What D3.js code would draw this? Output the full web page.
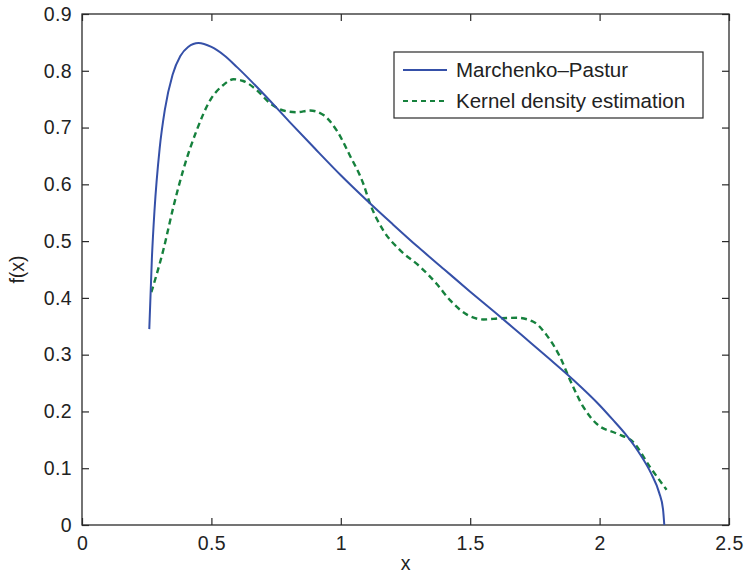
<!DOCTYPE html>
<html>
<head>
<meta charset="utf-8">
<script src="https://cdn.jsdelivr.net/npm/d3@7"></script>
<style>
  body { margin: 0; background: #fff; }
  svg text { font-family: "Liberation Sans", Arial, sans-serif; fill: #222; }
</style>
</head>
<body>
<svg id="chart" width="749" height="578"></svg>
<script>
// Marchenko-Pastur density vs kernel density estimate

var mpX = [0.26, 0.27, 0.28, 0.30, 0.32, 0.35, 0.38, 0.41, 0.45, 0.50, 0.55, 0.60, 0.70, 0.80, 0.90,
           1.00, 1.10, 1.20, 1.30, 1.40, 1.50, 1.60, 1.70, 1.80, 1.90, 2.00, 2.05, 2.10, 2.15, 2.20,
           2.23, 2.245, 2.25];
var mpY = [0.345, 0.469, 0.553, 0.663, 0.731, 0.793, 0.826, 0.842, 0.849, 0.842, 0.827, 0.806, 0.760, 0.711, 0.663,
           0.616, 0.572, 0.530, 0.489, 0.450, 0.411, 0.373, 0.334, 0.295, 0.255, 0.211, 0.186, 0.160, 0.129, 0.090,
           0.057, 0.028, 0];

var kdeX = [0.268, 0.314, 0.353, 0.391, 0.443, 0.495, 0.546, 0.585, 0.623, 0.675, 0.726, 0.778, 0.830, 0.881,
            0.933, 0.984, 1.036, 1.087, 1.113, 1.164, 1.229, 1.306, 1.370, 1.422, 1.486, 1.551, 1.615, 1.680,
            1.744, 1.796, 1.847, 1.886, 1.937, 1.989, 2.066, 2.130, 2.195, 2.259];
var kdeY = [0.410, 0.484, 0.560, 0.625, 0.695, 0.748, 0.775, 0.785, 0.782, 0.766, 0.743, 0.730, 0.727, 0.730,
            0.722, 0.695, 0.650, 0.601, 0.566, 0.519, 0.484, 0.455, 0.425, 0.396, 0.371, 0.362, 0.364, 0.365,
            0.358, 0.334, 0.296, 0.255, 0.208, 0.178, 0.161, 0.146, 0.102, 0.062];

var xTicks = [0, 0.5, 1, 1.5, 2, 2.5];
var yTicks = [0, 0.1, 0.2, 0.3, 0.4, 0.5, 0.6, 0.7, 0.8, 0.9];
var seriesNames = ["Marchenko\u2013Pastur", "Kernel density estimation"];
var seriesColors = ["#3550a8", "#16813d"];

var svg = d3.select("#chart"),
    margin = {top: 14, right: 20, bottom: 53, left: 82},
    width = +svg.attr("width") - margin.left - margin.right,
    height = +svg.attr("height") - margin.top - margin.bottom;

var x = d3.scaleLinear().domain([0, 2.5]).range([0, width]);
var y = d3.scaleLinear().domain([0, 0.9]).range([height, 0]);

var g = svg.append("g")
    .attr("transform", "translate(" + margin.left + "," + margin.top + ")");

var axisColor = "#2a2a2a";
function styleAxis(sel, labels) {
    sel.select(".domain").remove();
    sel.selectAll(".tick line").attr("stroke", axisColor).attr("stroke-width", 1.2);
    sel.selectAll(".tick text").style("font-size", "19.5px").style("letter-spacing", "0.4px").attr("fill", "#222");
    if (!labels) sel.selectAll(".tick text").remove();
}

// bottom / top / left / right axes with inward ticks (boxed look)
g.append("g").attr("transform", "translate(0," + height + ")")
    .call(d3.axisBottom(x).tickValues(xTicks).tickSize(-7).tickPadding(11).tickFormat(d3.format("")))
    .call(styleAxis, true);
g.append("g")
    .call(d3.axisTop(x).tickValues(xTicks).tickSize(-7))
    .call(styleAxis, false);
g.append("g")
    .call(d3.axisLeft(y).tickValues(yTicks).tickSize(-7).tickPadding(10).tickFormat(d3.format("")))
    .call(styleAxis, true);
g.append("g").attr("transform", "translate(" + width + ",0)")
    .call(d3.axisRight(y).tickValues(yTicks).tickSize(-7))
    .call(styleAxis, false);

g.append("rect")
    .attr("width", width).attr("height", height)
    .attr("fill", "none").attr("stroke", axisColor).attr("stroke-width", 1.3);

var line = d3.line()
    .curve(d3.curveMonotoneX)
    .x(function(d) { return x(d[0]); })
    .y(function(d) { return y(d[1]); });

var mpData = d3.zip(mpX, mpY);
var kdeData = d3.zip(kdeX, kdeY);

g.append("path")
    .datum(kdeData)
    .attr("fill", "none")
    .attr("stroke", seriesColors[1])
    .attr("stroke-width", 2.4)
    .attr("stroke-dasharray", "6,4")
    .attr("d", line);

g.append("path")
    .datum(mpData)
    .attr("fill", "none")
    .attr("stroke", seriesColors[0])
    .attr("stroke-width", 2)
    .attr("d", line);

// axis titles
svg.append("text")
    .attr("x", margin.left + x(1.25))
    .attr("y", 570)
    .attr("text-anchor", "middle")
    .style("font-size", "19.5px")
    .text("x");

svg.append("text")
    .attr("transform", "translate(24," + (margin.top + height / 2) + ") rotate(-90)")
    .attr("text-anchor", "middle")
    .style("font-size", "19.5px")
    .text("f(x)");

// legend
var legend = svg.append("g").attr("transform", "translate(394,52)");
legend.append("rect")
    .attr("width", 309).attr("height", 66)
    .attr("fill", "#fff").attr("stroke", axisColor).attr("stroke-width", 1.2);

seriesNames.forEach(function(name, i) {
    var ly = 18 + i * 31;
    legend.append("line")
        .attr("x1", 9).attr("x2", 53)
        .attr("y1", ly).attr("y2", ly)
        .attr("stroke", seriesColors[i])
        .attr("stroke-width", i == 0 ? 2 : 2.2)
        .attr("stroke-dasharray", i == 0 ? null : "5,4");
    legend.append("text")
        .attr("x", 62).attr("y", ly)
        .attr("dy", "0.35em")
        .style("font-size", "20.5px")
        .text(name);
});
</script>
</body>
</html>
